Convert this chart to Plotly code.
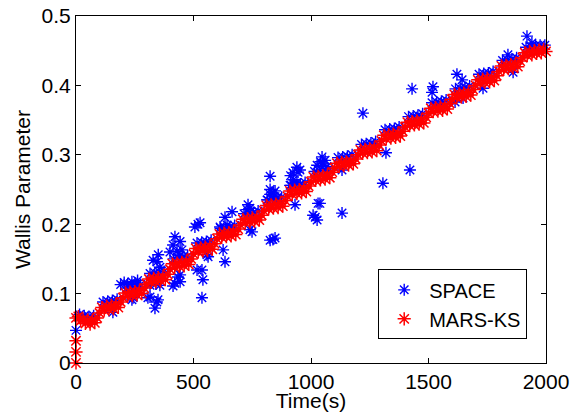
import plotly.graph_objects as go

# ---------------- data ----------------
mars_time = [
    0, 0, 0, 0,
    10, 20, 30, 40, 50, 60, 70, 80, 90, 100,
    110, 120, 130, 140, 150, 160, 170, 180, 190, 200,
    210, 220, 230, 240, 250, 260, 270, 280, 290, 300,
    310, 320, 330, 340, 350, 360, 370, 380, 390, 400,
    410, 420, 430, 440, 450, 460, 470, 480, 490, 500,
    510, 520, 530, 540, 550, 560, 570, 580, 590, 600,
    610, 620, 630, 640, 650, 660, 670, 680, 690, 700,
    710, 720, 730, 740, 750, 760, 770, 780, 790, 800,
    810, 820, 830, 840, 850, 860, 870, 880, 890, 900,
    910, 920, 930, 940, 950, 960, 970, 980, 990, 1000,
    1010, 1020, 1030, 1040, 1050, 1060, 1070, 1080, 1090, 1100,
    1110, 1120, 1130, 1140, 1150, 1160, 1170, 1180, 1190, 1200,
    1210, 1220, 1230, 1240, 1250, 1260, 1270, 1280, 1290, 1300,
    1310, 1320, 1330, 1340, 1350, 1360, 1370, 1380, 1390, 1400,
    1410, 1420, 1430, 1440, 1450, 1460, 1470, 1480, 1490, 1500,
    1510, 1520, 1530, 1540, 1550, 1560, 1570, 1580, 1590, 1600,
    1610, 1620, 1630, 1640, 1650, 1660, 1670, 1680, 1690, 1700,
    1710, 1720, 1730, 1740, 1750, 1760, 1770, 1780, 1790, 1800,
    1810, 1820, 1830, 1840, 1850, 1860, 1870, 1880, 1890, 1900,
    1910, 1920, 1930, 1940, 1950, 1960, 1970, 1980, 1990, 2000,
]
mars_values = [
    0.0, 0.016, 0.032, 0.065,
    0.067, 0.061, 0.063, 0.057, 0.062, 0.056, 0.062, 0.058, 0.065, 0.072,
    0.080, 0.076, 0.082, 0.077, 0.083, 0.078, 0.084, 0.080, 0.088, 0.094,
    0.101, 0.096, 0.102, 0.097, 0.103, 0.098, 0.104, 0.100, 0.108, 0.114,
    0.121, 0.116, 0.122, 0.117, 0.123, 0.118, 0.124, 0.120, 0.128, 0.135,
    0.143, 0.138, 0.144, 0.139, 0.145, 0.140, 0.146, 0.142, 0.150, 0.157,
    0.165, 0.160, 0.166, 0.161, 0.167, 0.162, 0.168, 0.164, 0.172, 0.179,
    0.186, 0.181, 0.187, 0.182, 0.188, 0.183, 0.189, 0.185, 0.193, 0.199,
    0.207, 0.202, 0.208, 0.203, 0.209, 0.204, 0.210, 0.206, 0.213, 0.219,
    0.227, 0.222, 0.228, 0.223, 0.229, 0.224, 0.230, 0.226, 0.234, 0.240,
    0.248, 0.243, 0.249, 0.244, 0.250, 0.245, 0.251, 0.247, 0.255, 0.261,
    0.268, 0.263, 0.269, 0.264, 0.270, 0.265, 0.271, 0.267, 0.275, 0.281,
    0.288, 0.283, 0.289, 0.284, 0.290, 0.285, 0.291, 0.287, 0.294, 0.300,
    0.307, 0.302, 0.308, 0.303, 0.309, 0.304, 0.310, 0.306, 0.314, 0.320,
    0.328, 0.323, 0.329, 0.324, 0.330, 0.325, 0.331, 0.327, 0.334, 0.340,
    0.347, 0.342, 0.348, 0.343, 0.349, 0.344, 0.350, 0.346, 0.354, 0.360,
    0.367, 0.362, 0.368, 0.363, 0.369, 0.364, 0.370, 0.366, 0.374, 0.380,
    0.387, 0.382, 0.388, 0.383, 0.389, 0.384, 0.390, 0.386, 0.394, 0.400,
    0.408, 0.403, 0.409, 0.404, 0.410, 0.405, 0.411, 0.407, 0.414, 0.420,
    0.428, 0.423, 0.429, 0.424, 0.430, 0.425, 0.431, 0.427, 0.435, 0.440,
    0.447, 0.443, 0.449, 0.444, 0.450, 0.446, 0.451, 0.447, 0.452, 0.449,
]

# SPACE: points riding just above the MARS-KS band, then scattered points
space_time = [
    0,
    15, 35, 55, 75,
    115, 135, 155, 175,
    215, 235, 255, 275,
    315, 335, 355, 375,
    415, 435, 455, 475,
    515, 535, 555, 575,
    615, 635, 655, 675,
    715, 735, 755, 775,
    815, 835, 855, 875,
    915, 935, 955, 975,
    1015, 1035, 1055, 1075,
    1115, 1135, 1155, 1175,
    1215, 1235, 1255, 1275,
    1315, 1335, 1355, 1375,
    1415, 1435, 1455, 1475,
    1515, 1535, 1555, 1575,
    1615, 1635, 1655, 1675,
    1715, 1735, 1755, 1775,
    1815, 1835, 1855, 1875,
    1915, 1935, 1955, 1975, 1995,
    # scattered
    157, 190, 205, 220, 238, 255, 262, 238, 243,
    306, 315, 336, 344, 349, 315, 340, 357,
    328, 345, 350, 357, 413, 420, 443, 443, 434,
    421, 413, 443, 451, 443, 400, 430,
    506, 519, 528, 515, 536, 540, 536, 557, 562,
    626, 634, 613, 626, 643, 655, 634, 664,
    728, 740, 749, 740, 732,
    813, 826, 840, 855, 826, 847, 826, 847, 838, 826,
    911, 925, 940, 923, 940, 953, 945, 932, 913,
    1009, 1026, 1018, 1030, 1038,
    1026, 1040, 1047, 1060, 1051, 1068,
    1132, 1132, 1221, 1306, 1319, 1421,
    1430, 1515, 1519, 1613, 1621, 1643, 1647, 1732,
    1838, 1860, 1919, 1940,
]
space_values = [
    0.047,
    0.070, 0.068, 0.067, 0.068,
    0.088, 0.089, 0.090, 0.092,
    0.108, 0.110, 0.111, 0.113,
    0.129, 0.130, 0.131, 0.132,
    0.150, 0.152, 0.153, 0.154,
    0.173, 0.174, 0.175, 0.177,
    0.194, 0.195, 0.196, 0.198,
    0.215, 0.216, 0.217, 0.219,
    0.235, 0.236, 0.237, 0.239,
    0.256, 0.257, 0.258, 0.260,
    0.276, 0.277, 0.278, 0.280,
    0.296, 0.297, 0.298, 0.300,
    0.315, 0.316, 0.317, 0.319,
    0.336, 0.337, 0.338, 0.340,
    0.355, 0.356, 0.357, 0.359,
    0.375, 0.376, 0.377, 0.379,
    0.395, 0.396, 0.397, 0.399,
    0.416, 0.417, 0.418, 0.420,
    0.436, 0.437, 0.438, 0.440,
    0.455, 0.456, 0.457, 0.458, 0.458,
    # scattered
    0.073, 0.113, 0.116, 0.114, 0.117, 0.113, 0.119, 0.091, 0.094,
    0.094, 0.095, 0.079, 0.088, 0.091, 0.112, 0.114, 0.112,
    0.148, 0.146, 0.156, 0.138, 0.111, 0.115, 0.117, 0.127, 0.124,
    0.182, 0.170, 0.175, 0.163, 0.155, 0.160, 0.161,
    0.196, 0.200, 0.202, 0.134, 0.134, 0.120, 0.094, 0.156, 0.153,
    0.163, 0.146, 0.196, 0.185, 0.199, 0.192, 0.210, 0.218,
    0.221, 0.223, 0.189, 0.192, 0.228,
    0.235, 0.243, 0.245, 0.238, 0.250, 0.248, 0.177, 0.180, 0.178, 0.269,
    0.256, 0.264, 0.260, 0.274, 0.282, 0.278, 0.275, 0.228, 0.270,
    0.213, 0.206, 0.210, 0.230, 0.230,
    0.285, 0.290, 0.297, 0.292, 0.288, 0.283,
    0.216, 0.278, 0.360, 0.259, 0.303, 0.278,
    0.395, 0.390, 0.398, 0.376, 0.416, 0.408, 0.382, 0.396,
    0.444, 0.419, 0.471, 0.461,
]

FONT = "Liberation Sans, Arial, Helvetica, sans-serif"
FS = 21

fig = go.Figure()
fig.add_trace(go.Scatter(
    x=space_time, y=space_values, mode="markers", name="SPACE",
    cliponaxis=False,
    marker=dict(symbol="asterisk-open", size=10, color="#0000ff",
                line=dict(color="#0000ff", width=1.4)),
))
fig.add_trace(go.Scatter(
    x=mars_time, y=mars_values, mode="markers", name="MARS-KS",
    cliponaxis=False,
    marker=dict(symbol="asterisk-open", size=11, color="#ff0000",
                line=dict(color="#ff0000", width=1.5)),
))

axis_common = dict(
    showline=True, linecolor="black", linewidth=1, mirror="ticks",
    ticks="inside", ticklen=5, tickcolor="black", tickwidth=1,
    showgrid=False, zeroline=False, automargin=False,
    tickfont=dict(family=FONT, size=FS, color="black"),
)
fig.update_layout(
    width=576, height=412, autosize=False,
    margin=dict(l=76, r=30, t=16, b=49),
    paper_bgcolor="white", plot_bgcolor="white",
    font=dict(family=FONT, size=FS, color="black"),
    xaxis=dict(range=[0, 2000], tickvals=[0, 500, 1000, 1500, 2000],
               title=dict(text="Time(s)", standoff=0,
                          font=dict(family=FONT, size=FS, color="black")),
               **axis_common),
    yaxis=dict(range=[0, 0.5], tickvals=[0, 0.1, 0.2, 0.3, 0.4, 0.5],
               ticktext=["0", "0.1", "0.2", "0.3", "0.4", "0.5"],
               title=dict(text="Wallis Parameter", standoff=5,
                          font=dict(family=FONT, size=FS, color="black")),
               **axis_common),
    legend=dict(x=0.643, y=0.169, xanchor="left", yanchor="middle",
                bgcolor="white", bordercolor="black", borderwidth=1,
                itemwidth=40, tracegroupgap=0,
                font=dict(family=FONT, size=20, color="black")),
    showlegend=True,
)

fig.write_html(
    "out.html",
    config={"displayModeBar": False},
    post_script="document.body.style.margin='0';document.body.style.overflow='hidden';",
)
